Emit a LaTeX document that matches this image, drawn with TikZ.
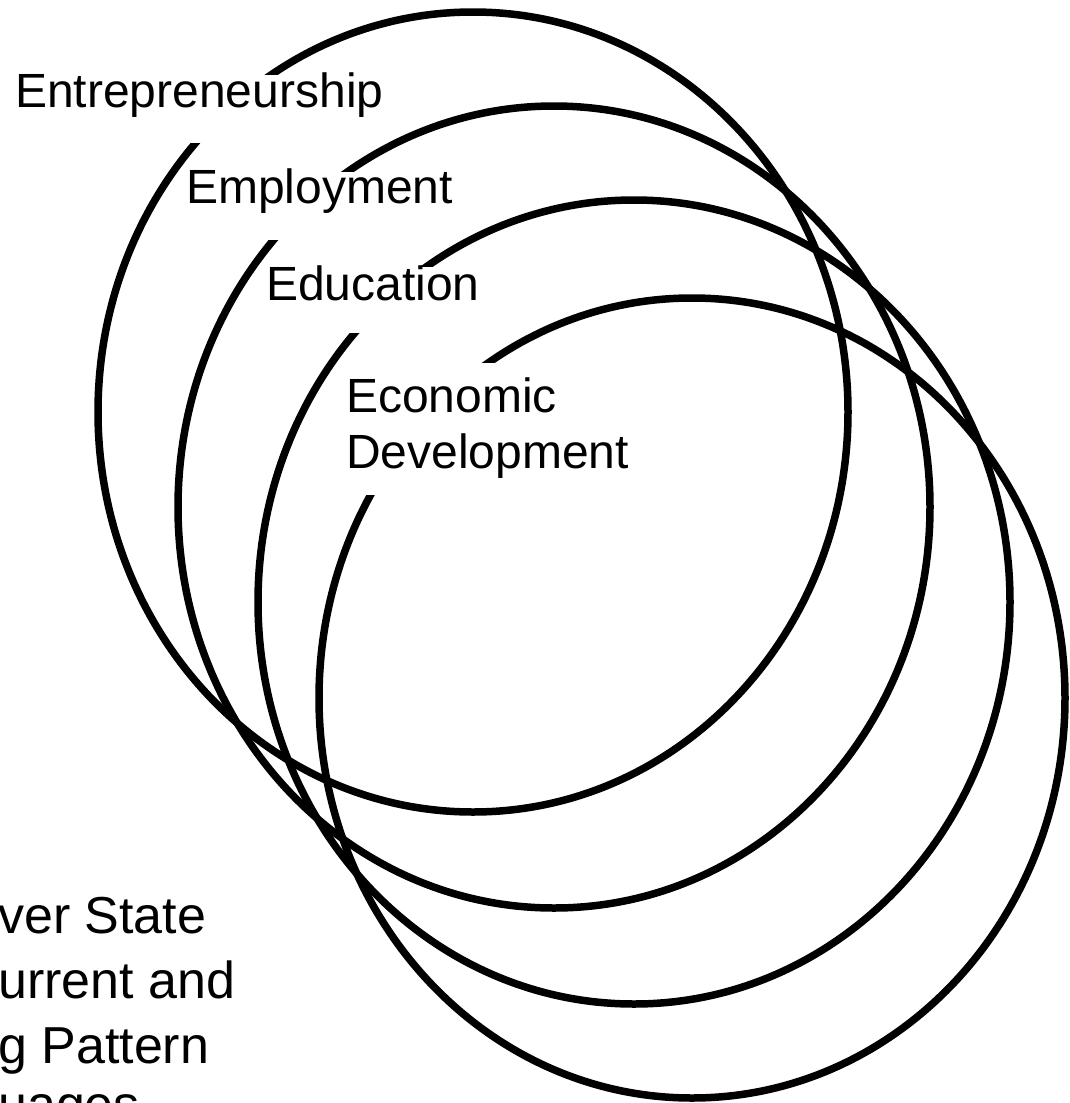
\documentclass[tikz,border=0pt]{standalone}
\usepackage{fontspec}
\setmainfont{Liberation Sans}
\begin{document}
\begin{tikzpicture}[
      x=1pt, y=-1pt,
      ring/.style={line width=7.5pt},
      lbl/.style={fill=white, inner sep=0pt, anchor=base west,
        font=\fontsize{48}{56}\selectfont},
      note/.style={inner sep=0pt, anchor=north west, align=left,
        font=\fontsize{52}{65}\selectfont}
    ]
      \useasboundingbox (0,0) rectangle (1069,1103);
      \clip (0,0) rectangle (1069,1103);
      % rings
      \draw[ring] (473,412) ellipse [x radius=375, y radius=400];
      \draw[ring] (554,507) ellipse [x radius=376, y radius=401];
      \draw[ring] (634,602) ellipse [x radius=376, y radius=402];
      \draw[ring] (692,698) ellipse [x radius=373, y radius=400];
      % labels cut their own ring
      \node[lbl, text height=32pt, text depth=36pt] (ent) at (15,107) {Entrepreneurship};
      \node[lbl, text height=31pt, text depth=37pt] (emp) at (186,203) {Employment};
      \node[lbl, text height=33pt, text depth=33pt] (edu) at (266,300) {Education};
      \node[lbl, anchor=north west, align=left] (eco) at (346,363)
        {\rule{0pt}{49pt}Economic\\Development\rule[-27pt]{0pt}{27pt}};
      \node[note] (src) at (-2,893)
        {\rule{0pt}{40pt}ver State\\urrent and\\g Pattern\\[-6pt]uages};
    \end{tikzpicture}
\end{document}
